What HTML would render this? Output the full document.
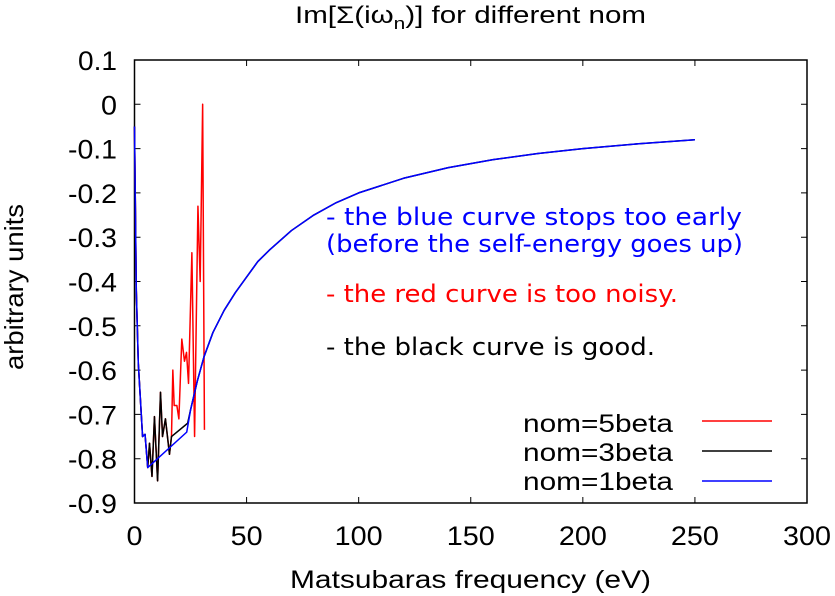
<!DOCTYPE html>
<html><head><meta charset="utf-8"><style>
body{margin:0;background:#fff;}
svg{display:block;font-family:"Liberation Sans","DejaVu Sans",sans-serif;}
.dv{font-family:"DejaVu Sans","Liberation Sans",sans-serif;}
</style></head><body>
<svg id="chart" width="835" height="596" viewBox="0 0 835 596">
<text x="295" y="23" font-size="24" textLength="351" lengthAdjust="spacingAndGlyphs">Im[Σ(iω<tspan font-size="17" dy="6">n</tspan><tspan dy="-6">)] for different nom</tspan></text>
<g id="axes"></g>
<g id="series"></g>
<text class="dv" x="326" y="225" font-size="24" fill="#0000ff" textLength="416" lengthAdjust="spacingAndGlyphs">- the blue curve stops too early</text>
<text class="dv" x="326" y="252" font-size="24" fill="#0000ff" textLength="417" lengthAdjust="spacingAndGlyphs">(before the self-energy goes up)</text>
<text class="dv" x="326" y="302" font-size="24" fill="#ff0000" textLength="352" lengthAdjust="spacingAndGlyphs">- the red curve is too noisy.</text>
<text class="dv" x="326" y="355" font-size="24" fill="#000" textLength="329" lengthAdjust="spacingAndGlyphs">- the black curve is good.</text>
<text x="23" y="287" font-size="26" textLength="166" lengthAdjust="spacingAndGlyphs" text-anchor="middle" transform="rotate(-90 23 287)">arbitrary units</text>
<text x="290" y="588" font-size="25" textLength="361" lengthAdjust="spacingAndGlyphs">Matsubaras frequency (eV)</text>
<g>
<text x="523" y="432" font-size="25" textLength="150" lengthAdjust="spacingAndGlyphs">nom=5beta</text>
<line x1="702" y1="421" x2="772" y2="421" stroke="#ff0000" stroke-width="1.5"/>
<text x="523" y="461" font-size="25" textLength="150" lengthAdjust="spacingAndGlyphs">nom=3beta</text>
<line x1="702" y1="451" x2="772" y2="451" stroke="#000" stroke-width="1.5"/>
<text x="523" y="490" font-size="25" textLength="150" lengthAdjust="spacingAndGlyphs">nom=1beta</text>
<line x1="702" y1="481" x2="772" y2="481" stroke="#0000ff" stroke-width="1.5"/>
</g>
</svg>
<script>
const xTicks=[0,50,100,150,200,250,300];
const yTicks=[0.1,0,-0.1,-0.2,-0.3,-0.4,-0.5,-0.6,-0.7,-0.8,-0.9];
const blueX=[0,0.8,1.7,3.6,4.7,5.9,23.3,25,28,31,35,40,45,50,55,60,70,80,90,100,120,140,160,180,200,225,250];
const blueY=[-0.05,-0.42,-0.585,-0.75,-0.745,-0.82,-0.74,-0.69,-0.625,-0.57,-0.515,-0.465,-0.425,-0.39,-0.355,-0.33,-0.285,-0.25,-0.222,-0.2,-0.167,-0.143,-0.125,-0.111,-0.1,-0.089,-0.08];
const blackX=[0,0.8,1.7,3.6,4.7,5.9,6.7,7.8,8.9,10.3,11.6,12.5,13.8,15.6,16.5,23.7,25,28,31,35,40,45,50,55,60,70,80,90,100,120,140,160,180,200,225,250];
const blackY=[-0.05,-0.42,-0.585,-0.75,-0.745,-0.82,-0.765,-0.84,-0.705,-0.85,-0.65,-0.75,-0.71,-0.79,-0.75,-0.72,-0.69,-0.625,-0.57,-0.515,-0.465,-0.425,-0.39,-0.355,-0.33,-0.285,-0.25,-0.222,-0.2,-0.167,-0.143,-0.125,-0.111,-0.1,-0.089,-0.08];
const redX=[0,0.8,1.7,3.6,4.7,5.9,6.7,7.8,8.9,10.3,11.6,12.5,13.8,15.6,16.5,17.1,17.7,18.9,19.8,21.1,22.3,23.2,24.1,25.6,26.8,28.3,29.3,30.4,31.2];
const redY=[-0.05,-0.42,-0.585,-0.75,-0.745,-0.82,-0.765,-0.84,-0.705,-0.85,-0.65,-0.75,-0.71,-0.79,-0.75,-0.6,-0.68,-0.68,-0.71,-0.53,-0.58,-0.56,-0.63,-0.335,-0.75,-0.23,-0.4,0.0,-0.735];
const L=134.5,R=807,T=60,B=503;
const sx=v=>L+(v-0)/(300-0)*(R-L);
const sy=v=>B-(v-(-0.9))/(0.1-(-0.9))*(B-T);
const NS="http://www.w3.org/2000/svg";
const wOf=s=>[...s].reduce((a,c)=>a+(c==='.'?7:c==='-'?10:16),0);
const axes=document.getElementById('axes');
const box=document.createElementNS(NS,'rect');
box.setAttribute('x',L);box.setAttribute('y',T);box.setAttribute('width',R-L);box.setAttribute('height',B-T);
box.setAttribute('fill','none');box.setAttribute('stroke','#000');box.setAttribute('stroke-width','1.5');


axes.appendChild(box);
xTicks.forEach(t=>{
 const x=sx(t);
 const l=document.createElementNS(NS,'path');
 l.setAttribute('d',`M${x},${B}v-6M${x},${T}v6`);l.setAttribute('stroke','#000');
 
 
 axes.appendChild(l);
 const tx=document.createElementNS(NS,'text');
 const s=String(t);
 tx.setAttribute('x',x);tx.setAttribute('y',545);tx.setAttribute('font-size','27');tx.setAttribute('text-anchor','middle');
 tx.setAttribute('textLength',wOf(s));tx.setAttribute('lengthAdjust','spacingAndGlyphs');
 tx.textContent=s;
 
 
 axes.appendChild(tx);
});
yTicks.forEach(t=>{
 const y=sy(t);
 const l=document.createElementNS(NS,'path');
 l.setAttribute('d',`M${L},${y}h6M${R},${y}h-6`);l.setAttribute('stroke','#000');
 
 
 axes.appendChild(l);
 const tx=document.createElementNS(NS,'text');
 const s=(Math.round(t*10)/10).toString();
 tx.setAttribute('x',117);tx.setAttribute('y',y+10);tx.setAttribute('font-size','27');tx.setAttribute('text-anchor','end');
 tx.setAttribute('textLength',wOf(s));tx.setAttribute('lengthAdjust','spacingAndGlyphs');
 tx.textContent=s;
 
 
 axes.appendChild(tx);
});
const series=document.getElementById('series');
function line(xs,ys,color,name){
 const p=document.createElementNS(NS,'polyline');
 p.setAttribute('points',xs.map((x,i)=>sx(x)+','+sy(ys[i])).join(' '));
 p.setAttribute('fill','none');p.setAttribute('stroke',color);p.setAttribute('stroke-width','1.5');
 p.setAttribute('stroke-linejoin','round');
 
 
 series.appendChild(p);
}
line(redX,redY,'#ff0000','series-nom-5beta');
line(blackX,blackY,'#000000','series-nom-3beta');
line(blueX,blueY,'#0000ff','series-nom-1beta');
</script>
</body></html>
